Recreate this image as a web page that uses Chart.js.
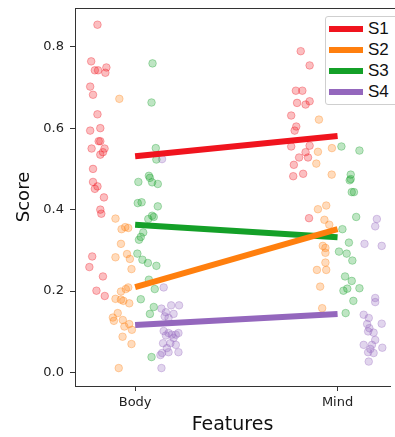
<!DOCTYPE html>
<html>
<head>
<meta charset="utf-8">
<script src="https://cdn.jsdelivr.net/npm/chart.js@4"></script>
<style>
  body { margin: 0; background: #fff; }
  #wrap { position: relative; width: 395px; height: 437px; overflow: hidden; }
  #legend {
    position: absolute; left: 325px; top: 16px; width: 80px; height: 87px;
    border: 1px solid #cfcfcf; border-radius: 3px; background: #fff;
    font-family: 'Liberation Sans', Arial, sans-serif; font-size: 17px; color: #111;
  }
  .row { position: absolute; left: 0; height: 21px; }
  .sw { position: absolute; left: 3px; width: 34px; height: 6px; top: 8px; }
  .lb { position: absolute; left: 42px; top: 1px; line-height: 19px; }
</style>
</head>
<body>
<div id="wrap">
  <canvas id="c" width="395" height="437"></canvas>
  <div id="legend"></div>
</div>
<script>
// categories and series
const features = ['Body', 'Mind'];
const seriesNames = ['S1', 'S2', 'S3', 'S4'];
const seriesColors = ['240,20,30', '255,127,14', '20,160,40', '148,103,189'];
const yTicks = [0, 0.2, 0.4, 0.6, 0.8];

// mean score per feature (Body, Mind)
const meanS1 = [0.531, 0.581];
const meanS2 = [0.21, 0.352];
const meanS3 = [0.363, 0.332];
const meanS4 = [0.117, 0.144];

// individual points [feature position incl. jitter, score]
const bodyS1 = [[-0.186,0.854],[-0.217,0.764],[-0.199,0.742],[-0.183,0.742],[-0.142,0.749],[-0.147,0.736],[-0.222,0.702],[-0.208,0.682],[-0.186,0.634],[-0.222,0.594],[-0.172,0.600],[-0.180,0.568],[-0.172,0.568],[-0.215,0.550],[-0.151,0.550],[-0.172,0.535],[-0.159,0.541],[-0.208,0.500],[-0.208,0.468],[-0.186,0.457],[-0.199,0.451],[-0.154,0.430],[-0.172,0.400],[-0.167,0.390],[-0.212,0.285],[-0.226,0.259],[-0.159,0.236],[-0.191,0.201],[-0.150,0.188]];
const bodyS2 = [[-0.078,0.672],[-0.097,0.378],[-0.067,0.352],[-0.049,0.357],[-0.034,0.355],[-0.070,0.316],[-0.097,0.283],[-0.040,0.291],[-0.026,0.279],[-0.018,0.254],[-0.034,0.209],[-0.046,0.205],[-0.070,0.199],[-0.097,0.181],[-0.070,0.179],[-0.058,0.176],[-0.029,0.170],[-0.086,0.146],[-0.110,0.135],[-0.105,0.127],[-0.061,0.129],[-0.053,0.113],[-0.029,0.119],[-0.016,0.105],[-0.062,0.088],[-0.018,0.070],[-0.081,0.011]];
const bodyS3 = [[0.086,0.759],[0.081,0.663],[0.102,0.551],[0.105,0.523],[0.016,0.468],[0.068,0.483],[0.073,0.478],[0.084,0.467],[0.112,0.463],[0.013,0.416],[0.032,0.418],[0.112,0.408],[0.084,0.385],[0.092,0.382],[0.065,0.377],[0.040,0.344],[0.028,0.333],[0.019,0.326],[0.011,0.292],[0.036,0.277],[0.063,0.269],[0.105,0.262],[0.068,0.228],[0.097,0.205],[0.028,0.180],[0.092,0.161],[0.073,0.144],[0.081,0.038]];
const bodyS4 = [[0.133,0.524],[0.141,0.209],[0.130,0.157],[0.178,0.165],[0.217,0.165],[0.152,0.148],[0.190,0.144],[0.146,0.138],[0.165,0.134],[0.141,0.102],[0.165,0.097],[0.181,0.093],[0.201,0.093],[0.214,0.097],[0.152,0.091],[0.190,0.085],[0.138,0.072],[0.174,0.072],[0.201,0.068],[0.157,0.060],[0.133,0.048],[0.165,0.050],[0.214,0.050],[0.125,0.043],[0.130,0.011]];
const mindS1 = [[0.818,0.789],[0.862,0.754],[0.794,0.692],[0.826,0.692],[0.800,0.662],[0.842,0.658],[0.862,0.666],[0.771,0.631],[0.796,0.604],[0.788,0.594],[0.771,0.555],[0.862,0.557],[0.842,0.541],[0.810,0.528],[0.854,0.528],[0.784,0.510],[0.781,0.482],[0.830,0.488],[0.859,0.379]];
const mindS2 = [[0.908,0.621],[0.972,0.551],[0.903,0.542],[0.895,0.513],[0.971,0.486],[0.944,0.410],[0.903,0.401],[0.935,0.375],[0.959,0.363],[0.927,0.311],[0.940,0.306],[0.940,0.294],[0.940,0.270],[0.898,0.252],[0.944,0.252],[0.914,0.211],[0.924,0.158]];
const mindS3 = [[1.019,0.555],[1.108,0.545],[1.065,0.486],[1.060,0.472],[1.065,0.475],[1.070,0.443],[1.081,0.443],[1.092,0.382],[1.024,0.352],[1.056,0.319],[1.007,0.297],[1.045,0.292],[1.073,0.275],[1.037,0.236],[1.070,0.225],[1.108,0.207],[1.029,0.201],[1.048,0.206],[1.078,0.176],[1.040,0.146]];
const mindS4 = [[1.194,0.377],[1.186,0.359],[1.133,0.316],[1.218,0.311],[1.186,0.183],[1.186,0.173],[1.129,0.142],[1.154,0.134],[1.218,0.120],[1.146,0.119],[1.157,0.109],[1.151,0.101],[1.178,0.098],[1.186,0.080],[1.129,0.068],[1.170,0.068],[1.221,0.061],[1.162,0.058],[1.151,0.050],[1.178,0.048],[1.154,0.027]];

const means = [meanS1, meanS2, meanS3, meanS4];
const points = [bodyS1.concat(mindS1), bodyS2.concat(mindS2), bodyS3.concat(mindS3), bodyS4.concat(mindS4)];

const datasets = [];
means.forEach((m, i) => {
  datasets.push({
    label: seriesNames[i],
    data: m.map((v, k) => ({ x: k, y: v })),
    showLine: true,
    borderColor: 'rgb(' + seriesColors[i] + ')',
    borderWidth: 6,
    borderCapStyle: 'butt',
    pointRadius: 0,
    order: 0
  });
});
points.forEach((p, i) => {
  datasets.push({
    label: seriesNames[i] + ' points',
    data: p.map(d => ({ x: d[0], y: d[1] })),
    backgroundColor: 'rgba(' + seriesColors[i] + ',0.28)',
    borderColor: 'rgba(' + seriesColors[i] + ',0.32)',
    borderWidth: 1,
    pointRadius: 3.8,
    order: 1
  });
});

const frame = {
  id: 'frame',
  afterDraw(chart) {
    const a = chart.chartArea, c = chart.ctx;
    c.save();
    c.strokeStyle = '#333';
    c.lineWidth = 1;
    c.beginPath();
    c.moveTo(a.left, a.top + 0.5);
    c.lineTo(a.right + 5, a.top + 0.5);
    c.stroke();
    c.restore();
  }
};

const tickFont = { family: "'DejaVu Sans', sans-serif", size: 13 };

new Chart(document.getElementById('c'), {
  type: 'scatter',
  data: { datasets },
  options: {
    responsive: false,
    devicePixelRatio: 1,
    animation: false,
    layout: { padding: { top: 8, right: 0, left: 0, bottom: 0 } },
    plugins: { legend: { display: false }, tooltip: { enabled: false } },
    scales: {
      x: {
        type: 'linear',
        min: -0.297,
        max: 1.259,
        afterBuildTicks: s => { s.ticks = features.map((f, i) => ({ value: i })); },
        afterFit: s => { s.height = 51; s.paddingLeft = 0; s.paddingRight = 0; },
        ticks: { color: '#222', font: tickFont, padding: 4, callback: v => features[v] },
        grid: { display: true, drawOnChartArea: false, drawTicks: true, tickLength: 5, color: '#333' },
        border: { display: true, color: '#333', width: 1 },
        title: {
          display: true, text: 'Features', color: '#111',
          font: { family: "'DejaVu Sans', sans-serif", size: 19 },
          padding: { top: 0, bottom: 1 }
        }
      },
      y: {
        min: -0.033,
        max: 0.895,
        afterBuildTicks: s => { s.ticks = yTicks.map(v => ({ value: v })); },
        afterFit: s => { s.width = 75; s.paddingTop = 0; s.paddingBottom = 0; },
        ticks: { color: '#222', font: tickFont, padding: 6, callback: v => v.toFixed(1) },
        grid: { display: true, drawOnChartArea: false, drawTicks: true, tickLength: 5, color: '#333' },
        border: { display: true, color: '#333', width: 1 },
        title: {
          display: true, text: 'Score', color: '#111',
          font: { family: "'DejaVu Sans', sans-serif", size: 18 },
          padding: { top: 14, bottom: 0 }
        }
      }
    }
  },
  plugins: [frame]
});

// legend box
const lg = document.getElementById('legend');
seriesNames.forEach((n, i) => {
  const r = document.createElement('div');
  r.className = 'row';
  r.style.top = (1 + i * 21) + 'px';
  r.innerHTML = '<div class="sw" style="background:rgb(' + seriesColors[i] + ')"></div><div class="lb">' + n + '</div>';
  lg.appendChild(r);
});
</script>
</body>
</html>
